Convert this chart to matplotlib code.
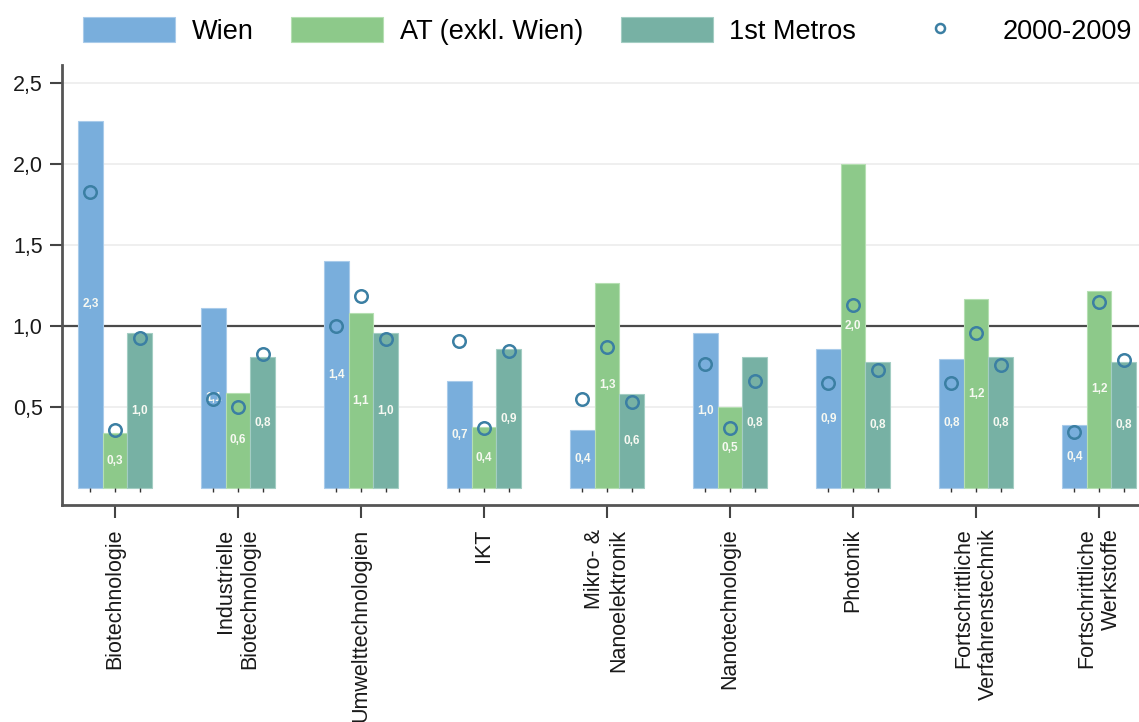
import matplotlib
matplotlib.use("Agg")
import matplotlib.pyplot as plt
import numpy as np

plt.rcParams['font.family'] = ['Liberation Sans', 'DejaVu Sans']

categories = ["Biotechnologie", "Industrielle\nBiotechnologie", "Umwelttechnologien", "IKT",
              "Mikro- &\nNanoelektronik", "Nanotechnologie", "Photonik",
              "Fortschrittliche\nVerfahrenstechnik", "Fortschrittliche\nWerkstoffe"]

series_names = ["Wien", "AT (exkl. Wien)", "1st Metros"]
wien = [2.27, 1.11, 1.40, 0.66, 0.36, 0.96, 0.86, 0.80, 0.39]
at_exkl = [0.34, 0.59, 1.08, 0.38, 1.27, 0.50, 2.00, 1.17, 1.22]
metros = [0.96, 0.81, 0.96, 0.86, 0.58, 0.81, 0.78, 0.81, 0.78]

# values for the earlier period 2000-2009 (open circles)
period_label = "2000-2009"
wien_0009 = [1.83, 0.55, 1.00, 0.91, 0.55, 0.77, 0.65, 0.65, 0.35]
at_0009 = [0.36, 0.50, 1.19, 0.37, 0.87, 0.37, 1.13, 0.96, 1.15]
metros_0009 = [0.93, 0.83, 0.92, 0.85, 0.53, 0.66, 0.73, 0.76, 0.79]

yticks = [0.5, 1.0, 1.5, 2.0, 2.5]

colors = ["#79aedc", "#8dc98a", "#77b1a4"]
edge_colors = ["#a9cbea", "#b5dfb2", "#a3cdc3"]
circle_color = "#3b7fa3"

fig = plt.figure(figsize=(11.39, 7.22), dpi=100)
ax = fig.add_axes([0.0544, 0.3006, 0.9456, 0.6094])

x = np.arange(len(categories))
width = 0.2
offsets = [-width, 0.0, width]
bar_series = [wien, at_exkl, metros]
circle_series = [wien_0009, at_0009, metros_0009]

# light grid lines and the reference line at 1.0
for yt in yticks:
    if yt == 1.0:
        ax.axhline(yt, color="#4a4a4a", lw=1.6, zorder=1)
    else:
        ax.axhline(yt, color="#ececec", lw=1.2, zorder=0)

handles = []
for vals, off, c, ec, name in zip(bar_series, offsets, colors, edge_colors, series_names):
    bars = ax.bar(x + off, vals, width=width, color=c, edgecolor=ec, linewidth=0.8,
                  label=name, zorder=2)
    handles.append(bars)
    for xi, v in zip(x + off, vals):
        ax.text(xi, v / 2, f"{v:.1f}".replace(".", ","), ha="center", va="center",
                fontsize=8.5, fontweight="bold", color="#f7f9f2", zorder=4)
    # small marks under each bar
    ax.plot(x + off, np.zeros(len(x)), linestyle="none", marker=3, markersize=3,
            color="#333333", zorder=3, clip_on=False)

for vals, off in zip(circle_series, offsets):
    ax.plot(x + off, vals, linestyle="none", marker="o", markersize=9,
            markerfacecolor="none", markeredgecolor=circle_color,
            markeredgewidth=1.8, zorder=5)
circle_handle = plt.Line2D([], [], linestyle="none", marker="o", markersize=6.5,
                           markerfacecolor="none", markeredgecolor=circle_color,
                           markeredgewidth=1.8)

ax.set_xlim(-0.431, 8.325)
ax.set_ylim(-0.103, 2.613)

ax.set_yticks(yticks)
ax.set_yticklabels([f"{t:.1f}".replace(".", ",") for t in yticks], fontsize=15.5)
ax.set_xticks(x)
ax.set_xticklabels(categories, rotation=90, fontsize=15.5, ha="center", va="top",
                   multialignment="right")

ax.tick_params(axis="y", length=9, width=1.5, color="#444444", pad=5, labelcolor="#1a1a1a")
ax.tick_params(axis="x", length=9, width=1.5, color="#444444", pad=8, labelcolor="#1a1a1a")

for side in ["top", "right"]:
    ax.spines[side].set_visible(False)
for side in ["left", "bottom"]:
    ax.spines[side].set_color("#555555")
    ax.spines[side].set_linewidth(2)

fig.legend(handles + [circle_handle], series_names + [period_label],
           loc="center left", bbox_to_anchor=(0.073, 0.957), ncol=4, frameon=False,
           fontsize=19.5, handlelength=3.4, handleheight=1.0, handletextpad=0.6,
           columnspacing=1.4, borderpad=0, borderaxespad=0)

fig.savefig("out.png", dpi=100)
